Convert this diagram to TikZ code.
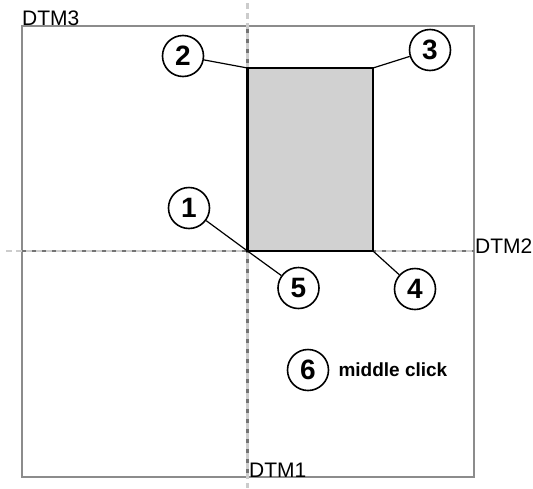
\documentclass[tikz,border=0pt]{standalone}
\usepackage{fontspec}
\setmainfont{Liberation Sans}
\usetikzlibrary{positioning}
\tikzset{
  num/.style={circle,draw,line width=1.6pt,minimum size=41pt,inner sep=0pt,
    font=\fontsize{28}{28}\selectfont\bfseries},
  lead/.style={line width=1.2pt},
  dtm/.style={inner sep=0pt,font=\fontsize{21}{21}\selectfont},
  dtmline/.style={line width=2.4pt,black!55},
  axis/.style={line width=2.4pt,black!20,dash pattern=on 6pt off 4pt},
}

\begin{document}
\begin{tikzpicture}[x=1pt,y=-1pt]
    \useasboundingbox (0,0) rectangle (533,488);
    % outer frame
    \draw[black!45, line width=1.2pt] (22,26) rectangle (474,477);
    \coordinate (c1) at (247.5,251);
    \coordinate (c2) at (247.5,68);
    \coordinate (c3) at (373,68);
    \coordinate (c4) at (373,251);
    \fill[black!18] (c2) rectangle (c4);
    % DTM lines
    \draw[dtmline] (247.5,26)--(247.5,477);
    \draw[dtmline] (22,251)--(474,251);
    \draw[axis] (247.5,3)--(247.5,488);
    \draw[axis] (6,251)--(474,251);
    \draw[line width=2.4pt] (c1)--(c2)--(c3)--(c4)--cycle;
    \node[dtm,anchor=base west] (dtm3) at (22,25) {DTM3};
    \node[dtm,anchor=base west] (dtm2) at (475,253) {DTM2};
    \node[dtm,anchor=base west] (dtm1) at (249,477) {DTM1};
    % numbered points
    \node[num] (n1) at (189,208) {1};
    \node[num] (n2) at (183,56) {2};
    \node[num] (n3) at (430,50) {3};
    \node[num] (n4) at (415,289) {4};
    \node[num] (n5) at (298.5,288) {5};
    \node[num] (n6) at (308,370) {6};
    \node[right=9pt of n6,inner sep=0pt,font=\fontsize{19}{19}\selectfont\bfseries] (click) {middle click};
    \draw[lead] (n1)--(c1);
    \draw[lead] (n2)--(c2);
    \draw[lead] (n3)--(c3);
    \draw[lead] (n4)--(c4);
    \draw[lead] (n5)--(c1);
\end{tikzpicture}
\end{document}
